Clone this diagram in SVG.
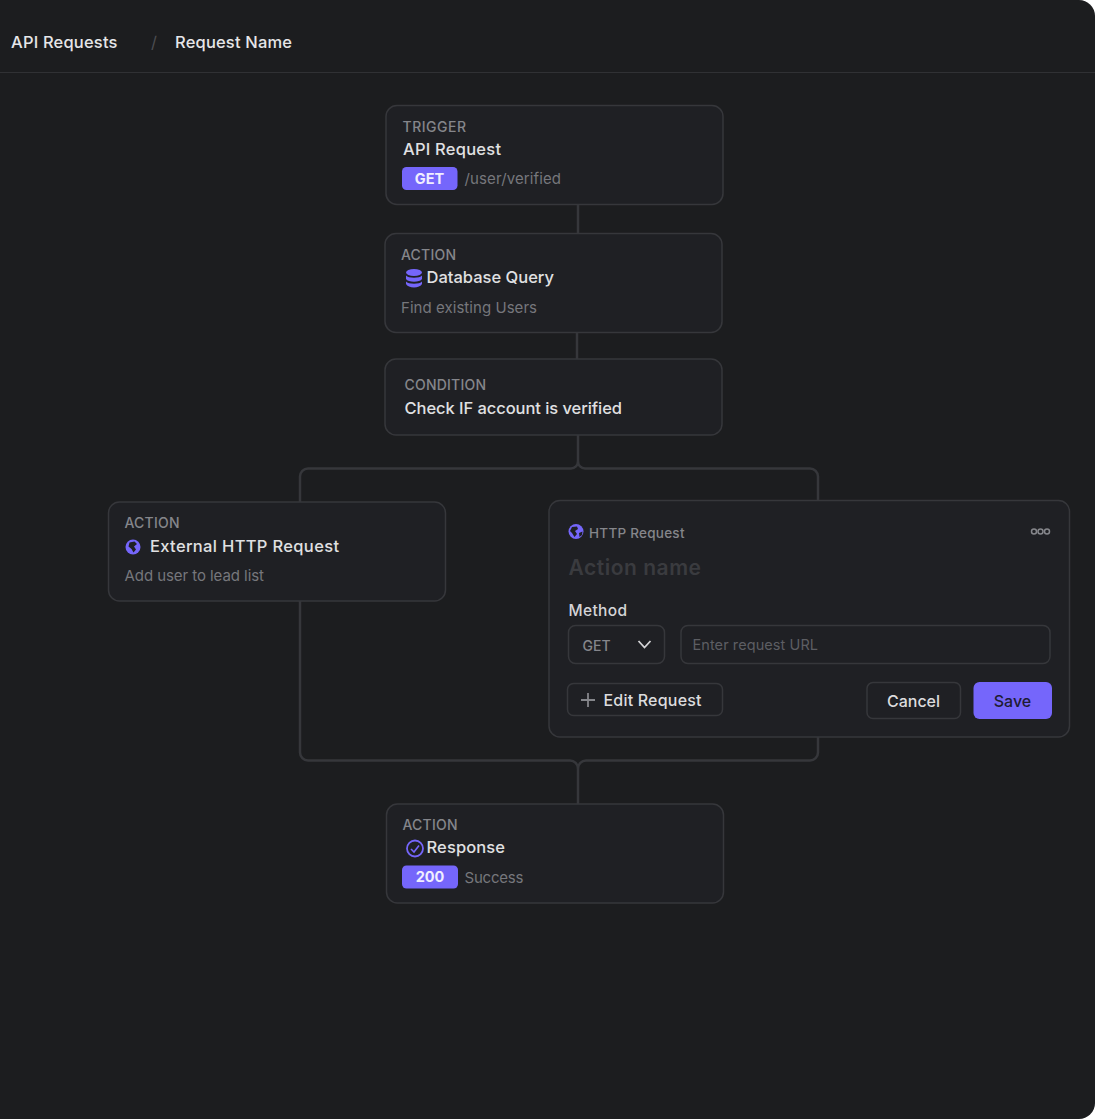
<svg xmlns="http://www.w3.org/2000/svg" width="1096" height="1119" viewBox="0 0 1096 1119">
<style>
text{font-family:Inter,"Liberation Sans",sans-serif}
.node{fill:#1f2024;stroke:#36373b;stroke-width:1.5}
.wire{fill:none;stroke:#36373b;stroke-width:2.5}
.kicker{font-size:14px;font-weight:500;fill:#85868b}
.title{font-size:16.5px;font-weight:550;fill:#e0e0e2}
.sub{font-size:15px;font-weight:400;fill:#76777c}
.badge{fill:#7566fb}
.badgetext{font-size:14.5px;font-weight:700;fill:#f0eeff;text-anchor:middle}
.icon{fill:#7566fb}
.ctl{fill:none;stroke:#36373b;stroke-width:1.5}
</style>
<rect width="1096" height="1119" fill="#ffffff"/>
<path d="M0 0H1079A16 16 0 0 1 1095 16V1103A16 16 0 0 1 1079 1119H0Z" fill="#1c1d1f"/>
<path d="M0 72.500H1095" stroke="#303134" stroke-width="1"/>
<g id="breadcrumb">
<text x="11" y="48" font-size="16.5" font-weight="550" fill="#e6e6e8" textLength="106.500">API Requests</text>
<text x="151" y="48" font-size="16.5" fill="#4c4d51">/</text>
<text x="175" y="48" font-size="16.5" font-weight="550" fill="#e6e6e8" textLength="117">Request Name</text>
</g>
<g id="connectors">
<path class="wire" d="M578 205V234"/>
<path class="wire" d="M577 332V359"/>
<path class="wire" d="M578 435V461.500A7 7 0 0 1 571 468.500H308A8 8 0 0 0 300 476.500V502"/>
<path class="wire" d="M578 461.500A7 7 0 0 0 585 468.500H810A8 8 0 0 1 818 476.500V500"/>
<path class="wire" d="M300 601V752.500A8 8 0 0 0 308 760.500H570A8 8 0 0 1 578 768.500V804"/>
<path class="wire" d="M818 737V752.500A8 8 0 0 1 810 760.500H586A8 8 0 0 0 578 768.500"/>
</g>
<g id="node-trigger">
<rect class="node" x="386" y="105.500" width="337" height="99" rx="11"/>
<text class="kicker" x="402.500" y="131.500" textLength="63.500">TRIGGER</text>
<text class="title" x="403" y="155" textLength="98">API Request</text>
<rect class="badge" x="402" y="167" width="55.500" height="23" rx="4.500"/>
<text class="badgetext" x="429.500" y="183.500">GET</text>
<text class="sub" x="464.500" y="184" textLength="96.500">/user/verified</text>
</g>
<g id="node-database">
<rect class="node" x="385" y="233.500" width="337" height="99" rx="11"/>
<text class="kicker" x="401" y="259.500" textLength="55">ACTION</text>
<g class="icon">
<ellipse cx="414" cy="272.500" rx="8" ry="3.500"/>
<path d="M406 275.500C408 278.500 420 278.500 422 275.500V279C420 282.500 408 282.500 406 279Z"/>
<path d="M406 281.500C408 284.500 420 284.500 422 281.500V284C420 288.500 408 288.500 406 284Z"/>
</g>
<text class="title" x="426.500" y="283" textLength="127.500">Database Query</text>
<text class="sub" x="401" y="312.500" textLength="136">Find existing Users</text>
</g>
<g id="node-condition">
<rect class="node" x="385" y="359" width="337" height="76" rx="11"/>
<text class="kicker" x="404.500" y="389.500" textLength="81.500">CONDITION</text>
<text class="title" x="404.500" y="414" textLength="217.500">Check IF account is verified</text>
</g>
<g id="node-external">
<rect class="node" x="108.500" y="502" width="337" height="99" rx="11"/>
<text class="kicker" x="124.500" y="528" textLength="55">ACTION</text>
<circle cx="133" cy="547" r="7.500" fill="#7566fb"/>
<path d="M129.500 542.500L134.500 541.500L137 544L134 546.500L136 549.500L133.500 552.500L131.500 549L128.500 546.500Z" fill="#1f2024"/>
<text class="title" x="150" y="551.500" textLength="189">External HTTP Request</text>
<text class="sub" x="124.500" y="581" textLength="139.500">Add user to lead list</text>
</g>
<g id="node-http-form">
<rect class="node" x="549" y="500.500" width="520.500" height="236.500" rx="11"/>
<circle cx="576" cy="531.500" r="7.500" fill="#7566fb"/>
<path d="M572 527L577 526.500L578 529L575 531L577 534L574.500 537L572 533L570 531Z" fill="#1f2024"/>
<path d="M579 533L582.500 531.500L582 535L579.500 537Z" fill="#1f2024"/>
<text x="589" y="537.500" font-size="13.500" font-weight="500" fill="#85868b" textLength="95.500">HTTP Request</text>
<g fill="none" stroke="#85868b" stroke-width="1.500">
<circle cx="1034" cy="531.500" r="2.500"/><circle cx="1040.500" cy="531.500" r="2.500"/><circle cx="1047" cy="531.500" r="2.500"/>
</g>
<text x="568.500" y="575" font-size="21" font-weight="600" fill="#3a3b3f" textLength="132.500">Action name</text>
<text x="568.500" y="616" font-size="15.500" font-weight="500" fill="#d4d4d7" textLength="58.500">Method</text>
<rect class="ctl" x="568.500" y="625.500" width="96" height="38" rx="7"/>
<text x="582.500" y="650.500" font-size="14" font-weight="500" fill="#85868b">GET</text>
<path d="M638.500 641L644.500 647.500L650.500 641" fill="none" stroke="#d4d4d7" stroke-width="1.800"/>
<rect class="ctl" x="681" y="625.500" width="369" height="38" rx="7"/>
<text x="692.500" y="649.500" font-size="14.500" fill="#5d5e63" textLength="125.500">Enter request URL</text>
<rect class="ctl" x="567.500" y="683.500" width="155" height="32" rx="6"/>
<path d="M588 693V707M581 700H595" stroke="#85868b" stroke-width="1.800" fill="none"/>
<text x="603.500" y="705.500" font-size="16" font-weight="500" fill="#dcdcde" textLength="98">Edit Request</text>
<rect class="ctl" x="867" y="682.500" width="93.500" height="36" rx="6"/>
<text x="913.500" y="706.500" font-size="16" font-weight="500" fill="#dcdcde" text-anchor="middle">Cancel</text>
<rect x="973.500" y="682" width="78.500" height="37" rx="6" fill="#7566fb"/>
<text x="1012.500" y="706.500" font-size="16" font-weight="500" fill="#1e1c33" text-anchor="middle">Save</text>
</g>
<g id="node-response">
<rect class="node" x="386.500" y="804" width="337" height="99" rx="11"/>
<text class="kicker" x="402.500" y="830" textLength="55">ACTION</text>
<circle cx="415" cy="848.500" r="8" fill="none" stroke="#7566fb" stroke-width="1.800"/>
<path d="M411 849L414 852L419 845.500" fill="none" stroke="#7566fb" stroke-width="1.600"/>
<text class="title" x="426.500" y="853" textLength="78.500">Response</text>
<rect class="badge" x="402" y="865.500" width="56" height="23" rx="4.500"/>
<text class="badgetext" x="430" y="882">200</text>
<text class="sub" x="464.500" y="882.500" textLength="59">Success</text>
</g>
</svg>
